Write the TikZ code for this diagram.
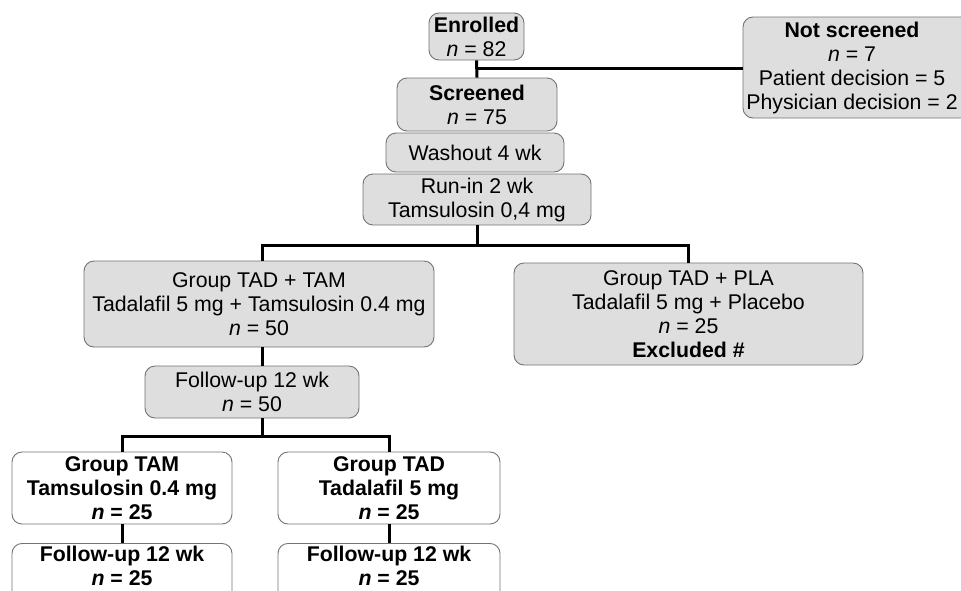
\documentclass[tikz,border=0pt]{standalone}
\usepackage{fontspec}
\setmainfont{Liberation Sans}
\begin{document}
\begin{tikzpicture}[x=1pt,y=-1pt,
  txt/.style={align=center, inner sep=0pt, font=\fontsize{21.3}{24}\selectfont},
  box/.style={txt, draw=black!55, line width=0.9pt, rounded corners=10pt},
  gbox/.style={box, fill=black!13},
  wbox/.style={box, fill=white, font=\fontsize{21.3}{24}\selectfont\bfseries},
  conn/.style={line width=3pt, black}]
\useasboundingbox (0,0) rectangle (961,590);
\clip (0,0) rectangle (961,590);
\fill[white] (0,0) rectangle (961,590);
% nodes
\node[gbox, minimum width=95pt, minimum height=47pt] (enr) at (476.5,36.5) {\textbf{Enrolled}\\\textit{n} = 82};
\node[gbox, minimum width=160pt, minimum height=53pt] (scr) at (477,104.5) {\textbf{Screened}\\\textit{n} = 75};
\node[gbox, minimum width=178pt, minimum height=39pt] (wash) at (475,152.5) {Washout 4 wk};
\node[gbox, minimum width=228pt, minimum height=51pt] (run) at (477,199.5) {Run-in 2 wk\\Tamsulosin 0,4 mg};
\node[gbox, minimum width=240pt, minimum height=101pt] (ns) at (863,67.5) {};
\node[txt] (nst) at (852,67.5) {\textbf{Not screened}\\\textit{n} = 7\\Patient decision = 5\\Physician decision = 2};
\node[gbox, minimum width=350pt, minimum height=86pt] (tt) at (259,304) {Group TAD + TAM\\Tadalafil 5 mg + Tamsulosin 0.4 mg\\\textit{n} = 50};
\node[gbox, minimum width=349pt, minimum height=102pt] (tp) at (688.5,314) {Group TAD + PLA\\Tadalafil 5 mg + Placebo\\\textit{n} = 25\\\textbf{Excluded \#}};
\node[gbox, minimum width=214pt, minimum height=52pt] (fu) at (252,392) {Follow-up 12 wk\\\textit{n} = 50};
\node[wbox, minimum width=220pt, minimum height=72pt] (gtam) at (122,488) {Group TAM\\Tamsulosin 0.4 mg\\\textit{n} = 25};
\node[wbox, minimum width=222pt, minimum height=72pt] (gtad) at (389,488) {Group TAD\\Tadalafil 5 mg\\\textit{n} = 25};
\node[wbox, minimum width=220pt, anchor=north] (fua) at (122,543) {\rule{0pt}{18pt}Follow-up 12 wk\\\textit{n} = 25\rule[-30pt]{0pt}{30pt}};
\node[wbox, minimum width=222pt, anchor=north] (fub) at (389,543) {\rule{0pt}{18pt}Follow-up 12 wk\\\textit{n} = 25\rule[-30pt]{0pt}{30pt}};
% junction coordinates
\coordinate (j1) at (477,68);
\coordinate (j2) at (477,245);
\coordinate (xl) at (262,0);
\coordinate (j3) at (262,436);
% connectors
\draw[conn] (enr.south) -- (scr.north);
\draw[conn] (j1) -- (j1 -| ns.west);
\draw[conn] (run.south) -- (j2);
\draw[conn] (xl |- tt.north) |- (j2) -| (tp.north);
\draw[conn] (xl |- tt.south) -- (xl |- fu.north);
\draw[conn] (xl |- fu.south) -- (j3);
\draw[conn] (gtam.north) |- (j3) -| (gtad.north);
\draw[conn] (gtam.south) -- (fua.north);
\draw[conn] (gtad.south) -- (fub.north);
\end{tikzpicture}
\end{document}
